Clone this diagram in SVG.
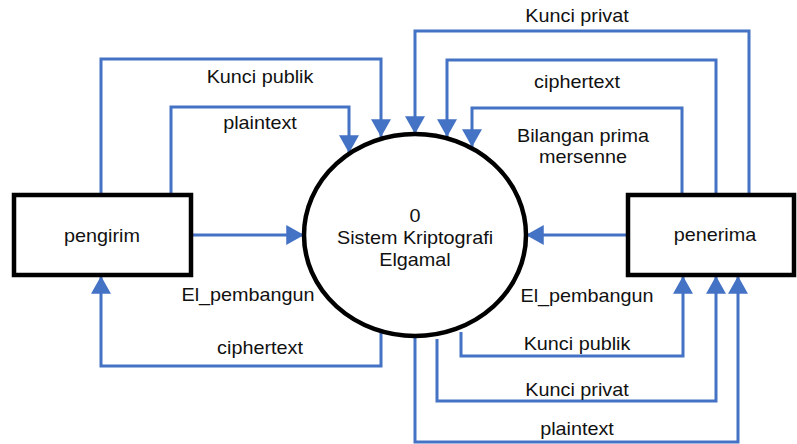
<svg xmlns="http://www.w3.org/2000/svg" width="797" height="444" viewBox="0 0 797 444">
<style>
.box{fill:#fff;stroke:#000;stroke-width:4.5}
.proc{fill:#fff;stroke:#000;stroke-width:4.5}
.flow{fill:none;stroke:#4472C4;stroke-width:3;marker-end:url(#arr)}
text{font-family:"Liberation Sans",Arial,sans-serif;font-size:18px;fill:#111;text-anchor:middle}
</style>
<defs>
<marker id="arr" markerUnits="userSpaceOnUse" markerWidth="20" markerHeight="20" viewBox="0 0 16 18" refX="16" refY="9" orient="auto">
<path d="M0,0 L16,9 L0,18 Z" fill="#4472C4"/>
</marker>
</defs>
<g id="connectors">
<path class="flow" d="M192,235 H304"/>
<path class="flow" d="M101,195 V59 H381 V137"/>
<path class="flow" d="M171,195 V107 H349 V153"/>
<path class="flow" d="M381,332 V366 H101 V276"/>
<path class="flow" d="M749,195 V31 H415 V134"/>
<path class="flow" d="M716,195 V60 H447 V137"/>
<path class="flow" d="M682,195 V108 H472 V147"/>
<path class="flow" d="M628,235 H526"/>
<path class="flow" d="M461,332 V356 H683 V276"/>
<path class="flow" d="M437,339 V401 H716 V276"/>
<path class="flow" d="M415,337 V442 H738 V276"/>
</g>
<g id="labels">
<text transform="translate(260,83) scale(1.1,1)">Kunci publik</text>
<text transform="translate(260,129) scale(1.1,1)">plaintext</text>
<text transform="translate(248,301) scale(1.1,1)">El_pembangun</text>
<text transform="translate(260,354) scale(1.1,1)">ciphertext</text>
<text transform="translate(577,22) scale(1.1,1)">Kunci privat</text>
<text transform="translate(577,88) scale(1.1,1)">ciphertext</text>
<text transform="translate(583,142) scale(1.1,1)">Bilangan prima</text>
<text transform="translate(583,163) scale(1.1,1)">mersenne</text>
<text transform="translate(587,302) scale(1.1,1)">El_pembangun</text>
<text transform="translate(577,350) scale(1.1,1)">Kunci publik</text>
<text transform="translate(577,396) scale(1.1,1)">Kunci privat</text>
<text transform="translate(577,435) scale(1.1,1)">plaintext</text>
</g>
<g id="pengirim">
<rect class="box" x="14" y="195" width="177" height="80"/>
<text transform="translate(102,242) scale(1.1,1)">pengirim</text>
</g>
<g id="sistem">
<ellipse class="proc" cx="415" cy="235" rx="111" ry="101"/>
<text transform="translate(415,222) scale(1.1,1)">0</text>
<text transform="translate(415,244) scale(1.1,1)">Sistem Kriptografi</text>
<text transform="translate(415,266) scale(1.1,1)">Elgamal</text>
</g>
<g id="penerima">
<rect class="box" x="628" y="195" width="166" height="80"/>
<text transform="translate(715,241) scale(1.1,1)">penerima</text>
</g>
</svg>
